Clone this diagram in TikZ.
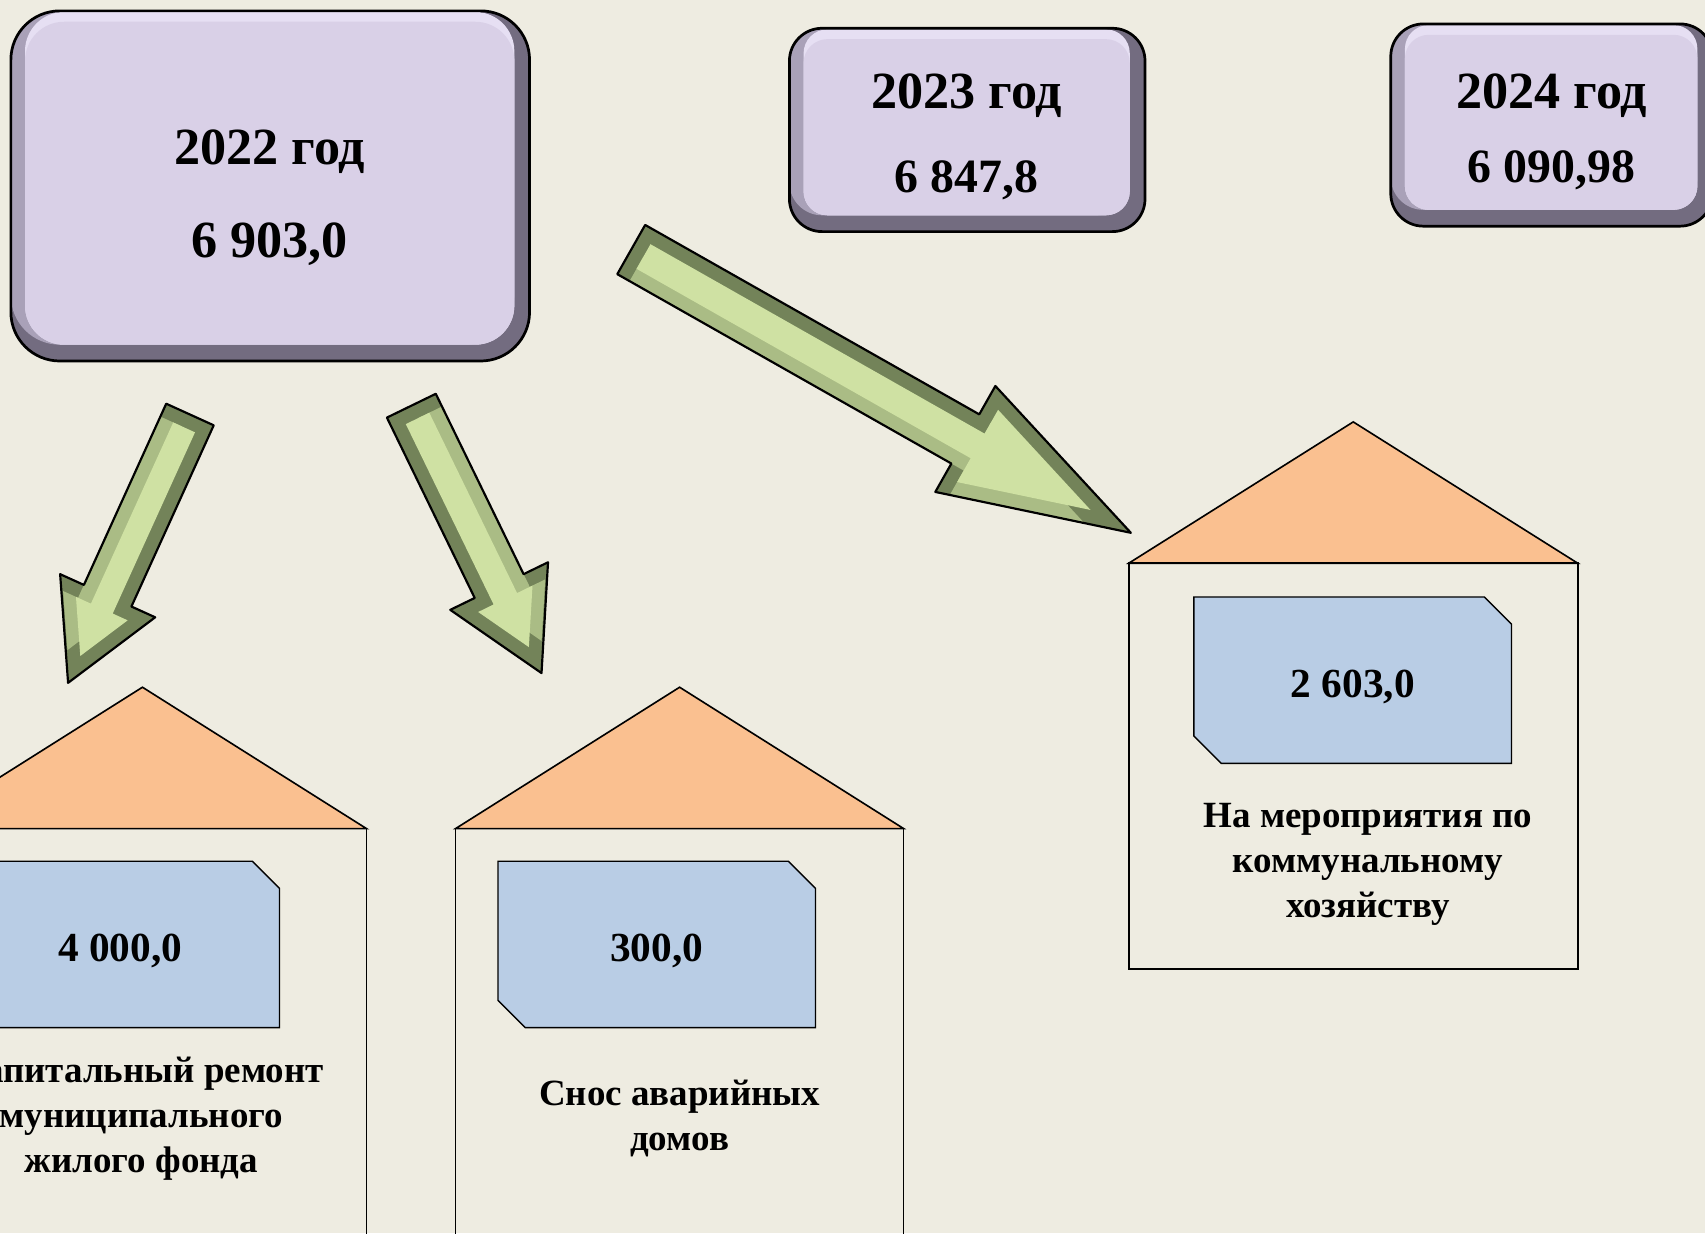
\documentclass[tikz,border=0pt]{standalone}
\usepackage{fontspec}
\setmainfont{Liberation Serif}
\usetikzlibrary{calc}

\definecolor{bgcol}{HTML}{EEECE1}
\definecolor{roofcol}{HTML}{FAC090}
\definecolor{valcol}{HTML}{B9CDE5}
\definecolor{boxface}{HTML}{D9D0E7}
\definecolor{boxlight}{HTML}{E6DFF3}
\definecolor{boxmid}{HTML}{A9A1B8}
\definecolor{boxdark}{HTML}{736C80}
\definecolor{ardark}{HTML}{738359}
\definecolor{armid}{HTML}{AABC85}
\definecolor{arlight}{HTML}{CFE1A3}

% outline of a block arrow along the x axis
\newcommand\arpoly[5]{(#1,#2) -- (#3,#2) -- (#3,#4) -- (#5,0) -- (#3,-#4) -- (#3,-#2) -- (#1,-#2) -- cycle}

% bevelled block arrow: tail, tip, shaft half width, head half width, head length, lit side
\newcommand\greenarrow[6]{%
  \path (#1); \pgfgetlastxy{\gaAx}{\gaAy}
  \path (#2); \pgfgetlastxy{\gaBx}{\gaBy}
  \pgfmathsetmacro\gaAng{atan2(\gaBy-\gaAy,\gaBx-\gaAx)}
  \pgfmathsetmacro\gaLen{veclen(\gaBx-\gaAx,\gaBy-\gaAy)}
  \pgfmathsetmacro\gaNeck{\gaLen-#5}
  \pgfmathsetmacro\gaSin{sin(atan(#4/#5))}
  \pgfmathsetmacro\gaTip{\gaLen-13/\gaSin}
  \pgfmathsetmacro\gaHi{(#5-13-13/\gaSin)*#4/#5}
  \pgfmathsetmacro\gaNeckIn{\gaNeck+13}
  \pgfmathsetmacro\gaWi{#3-13}
  \pgfmathsetmacro\gaOff{#6*13}
  \begin{scope}[shift={(#1)},rotate=\gaAng,x=1pt,y=1pt]
    \fill[ardark] \arpoly{0}{#3}{\gaNeck}{#4}{\gaLen};
    \fill[armid,yshift=\gaOff pt] \arpoly{13}{\gaWi}{\gaNeckIn}{\gaHi}{\gaTip};
    \fill[arlight] \arpoly{13}{\gaWi}{\gaNeckIn}{\gaHi}{\gaTip};
    \draw[black,line width=2pt,line join=round] \arpoly{0}{#3}{\gaNeck}{#4}{\gaLen};
  \end{scope}}

% bevelled year box: x0, y0, x1, y1, outer radius, inner radius
\newcommand\yearbox[6]{%
  \fill[boxdark,rounded corners=#5pt] (#1,#2) rectangle (#3,#4);
  \fill[boxmid,rounded corners=#5pt] (#1,#2) rectangle (#3-14,#4-15);
  \fill[boxlight,rounded corners=#6pt] (#1+13,#2+1) rectangle (#3-14,#4-15);
  \fill[boxface,rounded corners=#6pt] (#1+13,#2+10) rectangle (#3-14,#4-15);
  \draw[black,line width=2.5pt,rounded corners=#5pt] (#1,#2) rectangle (#3,#4);}

\begin{document}
\begin{tikzpicture}[x=1pt,y=-1pt,
    house/.style={draw=black,line width=1.5pt,line join=miter},
    valbox/.style={draw=black,line width=1.3pt,fill=valcol},
    yeartext/.style={anchor=base,inner sep=0pt,font=\fontsize{48}{58}\selectfont\bfseries},
    sumtext/.style={anchor=base,inner sep=0pt,font=\fontsize{44}{53}\selectfont\bfseries},
    valtext/.style={anchor=base,inner sep=0pt,font=\fontsize{38}{46}\selectfont\bfseries},
    labtext/.style={align=center,inner sep=0pt,font=\fontsize{34}{41.5}\selectfont\bfseries}]
  \useasboundingbox (0,0) rectangle (1568,1134);
  \clip (0,0) rectangle (1568,1134);
  \fill[bgcol] (0,0) rectangle (1568,1134);

  % year boxes
  \yearbox{10}{10}{487}{332}{45}{36}
  \yearbox{726}{26}{1053}{213}{30}{22}
  \yearbox{1279}{22}{1575}{208}{30}{22}
  \node[yeartext] (y22) at (248,151) {2022 год};
  \node[yeartext] (s22) at (248,237) {6 903,0};
  \node[yeartext] (y23) at (889,100) {2023 год};
  \node[sumtext] (s23) at (889,177) {6 847,8};
  \node[yeartext] (y24) at (1427,100) {2024 год};
  \node[sumtext] (s24) at (1427,168) {6 090,98};

  % houses
  \foreach \l/\t/\r/\b/\u in {-75/632/337/762/1150, 419/632/831/762/1150, 1038/388/1451/518/891}
  {\filldraw[house,fill=roofcol] (\l,\b) -- ({(\l+\r)/2},\t) -- (\r,\b) -- cycle;
   \draw[house] (\l,\b) rectangle (\r,\u);}

  % value plates
  \foreach \n/\l/\t/\r/\b/\v in {v1/-36/792/257/945/{4 000,0}, v2/458/792/750/945/{300,0}, v3/1098/549/1390/702/{2 603,0}}
  {\draw[valbox] (\l,\t) -- (\r-25,\t) -- (\r,\t+25) -- (\r,\b) -- (\l+25,\b) -- (\l,\b-25) -- cycle;
   \node[valtext] (\n) at ({(\l+\r)/2},\t+92) {\v};}

  \node[labtext] (l1) at (130,1029) {Капитальный ремонт\\муниципального\\жилого фонда};
  \node[labtext] (l2) at (625,1029) {Снос аварийных\\домов};
  \node[labtext] (l3) at (1258,795) {На мероприятия по\\коммунальному\\хозяйству};

  % arrows
  \coordinate (a1s) at (174.7,381.2); \coordinate (a1e) at (62.6,628);
  \coordinate (a2s) at (378.3,373.1); \coordinate (a2e) at (498,619);
  \coordinate (a3s) at (580.5,229.5); \coordinate (a3e) at (1040,490);
  \greenarrow{a1s}{a1e}{24}{48}{88}{-1}
  \greenarrow{a2s}{a2e}{25}{50}{89}{1}
  \greenarrow{a3s}{a3e}{26}{56}{175}{-1}
\end{tikzpicture}
\end{document}
